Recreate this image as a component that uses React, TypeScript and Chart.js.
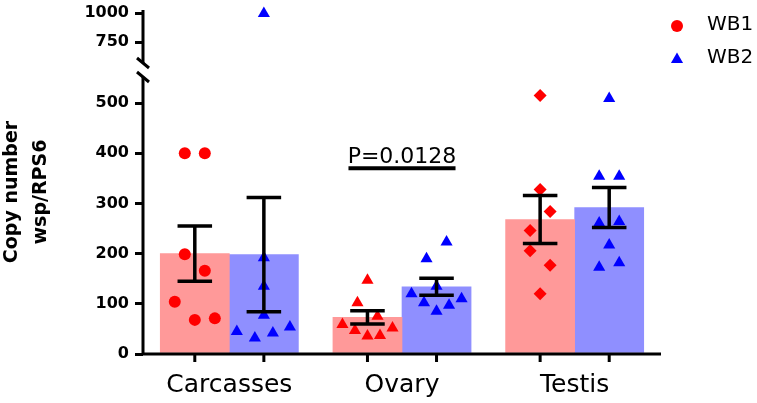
import React, { useEffect, useRef } from 'react';
import { Chart, registerables } from 'chart.js';

Chart.register(...registerables);

// ---------- data ----------
const categories = ['Carcasses', 'Ovary', 'Testis'];
const seriesNames = ['WB1', 'WB2'];

const wb1Mean = [200, 73, 268];
const wb1Sem = [55, 13, 48];
const wb2Mean = [198, 134, 292];
const wb2Sem = [114, 17, 40];

const wb1Points = [
  [400, 400, 199, 166, 104, 68, 71],
  [147, 102, 75, 59, 52, 47, 36, 37],
  [515, 328, 284, 246, 206, 177, 120],
];
const wb1Jitter = [
  [-1, 1, -1, 1, -2, 0, 2],
  [0, -1, 1, -2.5, 2.5, -1.25, 0, 1.25],
  [0, 0, 1, -1, -1, 1, 0],
];
const wb2Points = [
  [192, 135, 77, 45, 32, 42, 54, 995],
  [223, 190, 135, 120, 110, 102, 97, 85],
  [509, 354, 354, 261, 264, 217, 173, 182],
];
const wb2Jitter = [
  [0, 0, 0, -2.7, -0.9, 0.9, 2.6, 0],
  [1, -1, 0, -2.5, 2.5, -1.25, 1.25, 0],
  [0, -1, 1, -1, 1, 0, -1, 1],
];
const wb1Styles = ['circle', 'triangle', 'rectRot'];
const wb2Styles = ['triangle', 'triangle', 'triangle'];

const lowerTicks = [0, 100, 200, 300, 400, 500];
const upperTicks = [750, 1000];
const LOWER_MIN = 0;
const LOWER_MAX = 566;
const UPPER_MIN = 509;
const UPPER_MAX = 1026;

const pValueText = 'P=0.0128';
const pValueCategory = 1;
const pValueLevel = 370;

// ---------- layout / styles ----------
const CANVAS_W = 757;
const CANVAS_H = 403;
const AXIS_LEFT = 143;
const PAD_RIGHT = 96;
const FONT = "'DejaVu Sans', sans-serif";
const RED = '#ff0000';
const BLUE = '#0000ff';
const RED_BAR = 'rgb(255,153,153)';
const BLUE_BAR = 'rgb(143,143,255)';
const CAT_PCT = 0.8;
const BAR_OFFSET = CAT_PCT / 4;
const BAR_THICKNESS = ((CANVAS_W - AXIS_LEFT - PAD_RIGHT) / categories.length) * (CAT_PCT / 2);
const JITTER_STEP = 0.058;
const CAP_WIDTH = 0.2;
const RADIUS: Record<string, number> = { circle: 6, triangle: 7, rectRot: 6.5 };

function buildScatter(values: number[][], jitter: number[][], styles: string[], offset: number, upper: boolean) {
  const data: { x: number; y: number }[] = [];
  const ps: string[] = [];
  const rs: number[] = [];
  values.forEach((arr, i) => {
    arr.forEach((v, j) => {
      const isUpper = v > LOWER_MAX;
      if (isUpper !== upper) return;
      data.push({ x: i + 0.5 + offset + jitter[i][j] * JITTER_STEP, y: v });
      ps.push(styles[i]);
      rs.push(RADIUS[styles[i]]);
    });
  });
  return { data, ps, rs };
}

function drawTriangle(ctx: CanvasRenderingContext2D, x: number, y: number, r: number) {
  ctx.beginPath();
  ctx.moveTo(x, y - r);
  ctx.lineTo(x + r * Math.sin(Math.PI / 3), y + r * 0.5);
  ctx.lineTo(x - r * Math.sin(Math.PI / 3), y + r * 0.5);
  ctx.closePath();
  ctx.fill();
}

const decorPlugin = {
  id: 'decor',
  afterDatasetsDraw(chart: any) {
    const ctx = chart.ctx as CanvasRenderingContext2D;
    const x2 = chart.scales.x2;
    const y = chart.scales.y;
    ctx.save();
    ctx.strokeStyle = '#000';
    ctx.lineWidth = 3.5;
    const groups = [
      { mean: wb1Mean, sem: wb1Sem, off: -BAR_OFFSET },
      { mean: wb2Mean, sem: wb2Sem, off: BAR_OFFSET },
    ];
    const hw = (x2.getPixelForValue(CAP_WIDTH) - x2.getPixelForValue(0)) / 2;
    groups.forEach((g) =>
      g.mean.forEach((m, i) => {
        const cx = x2.getPixelForValue(i + 0.5 + g.off);
        const yt = y.getPixelForValue(m + g.sem[i]);
        const yb = y.getPixelForValue(m - g.sem[i]);
        ctx.beginPath();
        ctx.moveTo(cx, yt);
        ctx.lineTo(cx, yb);
        ctx.moveTo(cx - hw, yt);
        ctx.lineTo(cx + hw, yt);
        ctx.moveTo(cx - hw, yb);
        ctx.lineTo(cx + hw, yb);
        ctx.stroke();
      })
    );
    ctx.restore();
  },
  afterDraw(chart: any) {
    const ctx = chart.ctx as CanvasRenderingContext2D;
    const { left, right, bottom } = chart.chartArea;
    const x2 = chart.scales.x2;
    const y = chart.scales.y;
    const y2 = chart.scales.y2;
    ctx.save();
    ctx.strokeStyle = '#000';
    ctx.fillStyle = '#000';
    ctx.lineWidth = 3;
    // axes
    const gap = 7;
    ctx.beginPath();
    ctx.moveTo(left - 1.5, bottom);
    ctx.lineTo(right, bottom);
    ctx.moveTo(left, bottom + 1.5);
    ctx.lineTo(left, y.top + gap);
    ctx.moveTo(left, y2.top);
    ctx.lineTo(left, y2.bottom - gap);
    ctx.stroke();
    // break slashes
    ctx.lineWidth = 3;
    ctx.beginPath();
    [y2.bottom - gap, y.top + gap].forEach((yy) => {
      ctx.moveTo(left - 6, yy - 5);
      ctx.lineTo(left + 6, yy + 5);
    });
    ctx.stroke();
    // x tick marks
    ctx.lineWidth = 3;
    ctx.beginPath();
    categories.forEach((_, i) => {
      [-BAR_OFFSET, BAR_OFFSET].forEach((o) => {
        const px = x2.getPixelForValue(i + 0.5 + o);
        ctx.moveTo(px, bottom);
        ctx.lineTo(px, bottom + 8);
      });
    });
    ctx.stroke();
    // p-value annotation
    const py = y.getPixelForValue(pValueLevel);
    const pl = x2.getPixelForValue(pValueCategory + 0.5 - 0.31);
    const pr = x2.getPixelForValue(pValueCategory + 0.5 + 0.31);
    ctx.lineWidth = 4;
    ctx.beginPath();
    ctx.moveTo(pl, py);
    ctx.lineTo(pr, py);
    ctx.stroke();
    ctx.font = `22px ${FONT}`;
    ctx.textAlign = 'center';
    ctx.textBaseline = 'alphabetic';
    ctx.fillText(pValueText, (pl + pr) / 2, py - 5);
    // legend
    const lx = right + 16;
    const ly = y2.top;
    ctx.fillStyle = RED;
    ctx.beginPath();
    ctx.arc(lx, ly + 16, 6, 0, Math.PI * 2);
    ctx.fill();
    ctx.fillStyle = BLUE;
    drawTriangle(ctx, lx, ly + 49.5, 7);
    ctx.fillStyle = '#000';
    ctx.font = `20px ${FONT}`;
    ctx.textAlign = 'left';
    ctx.textBaseline = 'middle';
    ctx.fillText(seriesNames[0], lx + 30, ly + 15);
    ctx.fillText(seriesNames[1], lx + 30, ly + 48);
    // y title
    const cy = (y2.top + y.bottom) / 2 + 10;
    ctx.font = `bold 19px ${FONT}`;
    ctx.textAlign = 'center';
    ctx.textBaseline = 'alphabetic';
    ctx.translate(17, cy);
    ctx.rotate(-Math.PI / 2);
    ctx.fillText('Copy number', 0, 0);
    ctx.fillText('wsp/RPS6', 0, 29);
    ctx.restore();
  },
};

const yTicks = () => ({
  color: '#000',
  padding: 6,
  font: { family: FONT, size: 16, weight: 'bold' },
  callback: (v: any) => String(v),
});
const yGrid = () => ({
  display: true,
  drawOnChartArea: false,
  drawTicks: true,
  tickLength: 8,
  lineWidth: 3,
  tickWidth: 3,
  color: '#000',
});
const fitY = (s: any) => {
  s.width = AXIS_LEFT;
  s.paddingTop = 0;
  s.paddingBottom = 0;
};

export default function App() {
  const ref = useRef<HTMLCanvasElement | null>(null);
  useEffect(() => {
    document.body.style.margin = '0';
    const canvas = ref.current;
    if (!canvas) return;
    Chart.defaults.font.family = FONT;
    Chart.defaults.color = '#000';

    const s1 = buildScatter(wb1Points, wb1Jitter, wb1Styles, -BAR_OFFSET, false);
    const s1u = buildScatter(wb1Points, wb1Jitter, wb1Styles, -BAR_OFFSET, true);
    const s2 = buildScatter(wb2Points, wb2Jitter, wb2Styles, BAR_OFFSET, false);
    const s2u = buildScatter(wb2Points, wb2Jitter, wb2Styles, BAR_OFFSET, true);

    const scatterDs = (s: any, color: string, axis: string, label: string) => ({
      type: 'scatter',
      label,
      data: s.data,
      xAxisID: 'x2',
      yAxisID: axis,
      pointStyle: s.ps,
      pointRadius: s.rs,
      pointBackgroundColor: color,
      pointBorderColor: color,
      pointBorderWidth: 0,
      showLine: false,
      clip: false,
      order: 1,
    });

    const barDs = (values: number[], color: string, label: string, offset: number) => ({
      type: 'bar',
      label,
      data: values.map((v, i) => ({ x: i + 0.5 + offset, y: v })),
      backgroundColor: color,
      borderWidth: 0,
      grouped: false,
      barThickness: BAR_THICKNESS,
      xAxisID: 'x2',
      yAxisID: 'y',
      order: 2,
    });

    const chart = new Chart(canvas, {
      type: 'scatter',
      data: {
        labels: categories,
        datasets: [
          barDs(wb1Mean, RED_BAR, seriesNames[0], -BAR_OFFSET),
          barDs(wb2Mean, BLUE_BAR, seriesNames[1], BAR_OFFSET),
          scatterDs(s1, RED, 'y', seriesNames[0]),
          scatterDs(s1u, RED, 'y2', seriesNames[0]),
          scatterDs(s2, BLUE, 'y', seriesNames[1]),
          scatterDs(s2u, BLUE, 'y2', seriesNames[1]),
        ] as any,
      },
      options: {
        responsive: false,
        animation: false,
        devicePixelRatio: 1,
        events: [],
        layout: { padding: { top: 10, right: PAD_RIGHT, bottom: 0, left: 0 } },
        plugins: {
          legend: { display: false },
          tooltip: { enabled: false },
          title: { display: false },
        },
        scales: {
          x: {
            type: 'category',
            labels: categories,
            offset: true,
            grid: { display: false, drawTicks: false, offset: true },
            border: { display: false },
            ticks: {
              color: '#000',
              padding: 16,
              maxRotation: 0,
              autoSkip: false,
              font: { family: FONT, size: 25 },
            },
            afterFit: (s: any) => {
              s.height = 49;
            },
          },
          x2: {
            type: 'linear',
            min: 0,
            max: categories.length,
            offset: false,
            display: false,
            afterBuildTicks: (s: any) => {
              s.ticks = [0, 1, 2, 3].map((v) => ({ value: v }));
            },
          },
          y: {
            type: 'linear',
            position: 'left',
            stack: 'yaxis',
            stackWeight: 284,
            stacked: false,
            min: LOWER_MIN,
            max: LOWER_MAX,
            grid: yGrid(),
            border: { display: false },
            ticks: yTicks(),
            afterBuildTicks: (s: any) => {
              s.ticks = lowerTicks.map((v) => ({ value: v }));
            },
            afterFit: fitY,
          },
          y2: {
            type: 'linear',
            position: 'left',
            stack: 'yaxis',
            stackWeight: 60,
            stacked: false,
            min: UPPER_MIN,
            max: UPPER_MAX,
            grid: yGrid(),
            border: { display: false },
            ticks: yTicks(),
            afterBuildTicks: (s: any) => {
              s.ticks = upperTicks.map((v) => ({ value: v }));
            },
            afterFit: fitY,
          },
        } as any,
      },
      plugins: [decorPlugin],
    } as any);
    return () => chart.destroy();
  }, []);

  return (
    <div style={{ width: CANVAS_W, height: CANVAS_H, background: '#fff' }}>
      <canvas ref={ref} width={CANVAS_W} height={CANVAS_H} style={{ display: 'block' }} />
    </div>
  );
}
